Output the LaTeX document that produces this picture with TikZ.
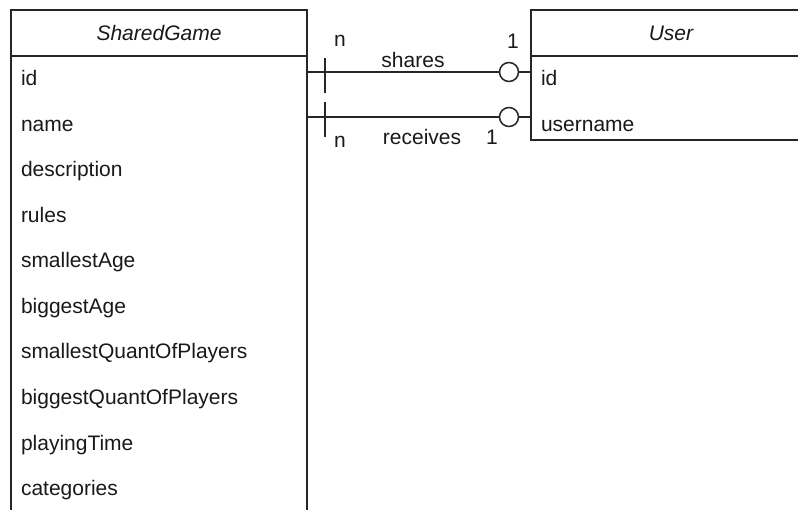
\documentclass[tikz,border=0pt]{standalone}
\usepackage{fontspec}
\setmainfont{Liberation Sans}
\begin{document}
\begin{tikzpicture}[x=1pt,y=-1pt,
  line width=1.5pt,
  every node/.style={inner sep=0pt, outer sep=0pt},
  tbl/.style={draw=black!85, anchor=north west},
  attr/.style={anchor=west, text=black!90, text height=15pt, text depth=4.5pt,
    font=\fontsize{21}{25}\selectfont},
  title/.style={text=black!90, font=\fontsize{21}{25}\selectfont\itshape},
  lbl/.style={text=black!90, font=\fontsize{21}{25}\selectfont},
  rel/.style={draw=black!85},
  bar/.style={draw=black!85},
  ring/.style={draw=black!85, fill=white}]
\useasboundingbox (0,0) rectangle (798,510);
\clip (0,0) rectangle (798,510);

% SharedGame entity (runs past the lower edge)
\node[tbl, minimum width=296pt, minimum height=560pt] (sg) at (11,10) {};
\draw[black!85] (11,56) -- (307,56);
\node[title] (sgt) at (159,33) {SharedGame};
\node[attr] (a1)  at (21,80.75)  {id};
\node[attr] (a2)  at (21,126.25) {name};
\node[attr] (a3)  at (21,171.75) {description};
\node[attr] (a4)  at (21,217.25) {rules};
\node[attr] (a5)  at (21,262.75) {smallestAge};
\node[attr] (a6)  at (21,308.25) {biggestAge};
\node[attr] (a7)  at (21,353.75) {smallestQuantOfPlayers};
\node[attr] (a8)  at (21,399.25) {biggestQuantOfPlayers};
\node[attr] (a9)  at (21,444.75) {playingTime};
\node[attr] (a10) at (21,490.25) {categories};

% User entity (runs past the right edge)
\node[tbl, minimum width=280pt, minimum height=130pt] (us) at (531,10) {};
\draw[black!85] (531,56) -- (811,56);
\node[title] (ust) at (671,33) {User};
\node[attr] (u1) at (541,80.75)  {id};
\node[attr] (u2) at (541,126.25) {username};

% relationship end points
\coordinate (s0) at (307,72);
\coordinate (s1) at (531,72);
\coordinate (r0) at (307,117);
\coordinate (r1) at (531,117);

% shares
\node[ring, circle, minimum size=19pt] (sc) at (509,72) {};
\draw[rel] (s0) -- (sc.west);
\draw[rel] (sc.east) -- (s1);
\draw[bar] (325,58) -- (325,93);

% receives
\node[ring, circle, minimum size=19pt] (rc) at (509,117) {};
\draw[rel] (r0) -- (rc.west);
\draw[rel] (rc.east) -- (r1);
\draw[bar] (325,102) -- (325,137);

% labels
\node[lbl] (ln1) at (340,41) {n};
\node[lbl] (l11) at (513,41) {1};
\node[lbl] (lsh) at (413,60) {shares};
\node[lbl] (ln2) at (340,142) {n};
\node[lbl] (lrc) at (422,137) {receives};
\node[lbl] (l12) at (492,137) {1};
\end{tikzpicture}
\end{document}
